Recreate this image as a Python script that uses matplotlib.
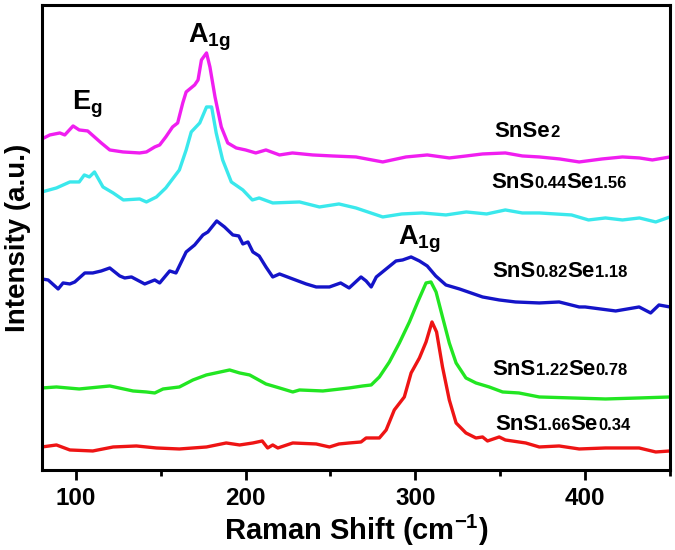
import matplotlib
matplotlib.use('Agg')
import matplotlib.pyplot as plt
from matplotlib.ticker import MultipleLocator

plt.rcParams['font.family'] = ['Liberation Sans', 'DejaVu Sans']
plt.rcParams['font.weight'] = 'bold'
plt.rcParams['mathtext.fontset'] = 'custom'
plt.rcParams['mathtext.rm'] = 'Liberation Sans:bold'
plt.rcParams['mathtext.bf'] = 'Liberation Sans:bold'
plt.rcParams['mathtext.it'] = 'Liberation Sans:bold'

# Raman spectra (intensity in arbitrary units, already offset)
x_snse2 = [80, 84.7, 90.6, 93.5, 98.4, 102, 107, 111, 115, 120, 127.8, 137.6, 141.6, 146.5, 149.4,
           153, 157, 160, 163, 165, 170, 172, 174, 177, 179, 182, 185.7, 189.5, 194.5, 200, 206,
           212, 220, 227.6, 239.5, 251, 265, 280.8, 294.5, 307, 320, 330, 339.6, 353, 363, 373,
           385, 396.5, 410, 422, 432, 439.6, 450]
y_snse2 = [331, 335, 337, 335, 344, 340, 339, 333, 327, 320, 318, 317, 318, 323, 325,
           333, 343, 347, 367, 378, 385, 390, 410, 417, 403, 373, 343, 327, 322, 320, 317,
           320, 315, 317, 315, 314, 313, 308, 313, 315, 312, 314, 316, 317, 314, 313,
           311, 308, 311, 313, 312, 310, 313]

x_s044 = [80, 88.6, 96.5, 102, 105, 108, 111, 116, 122, 128, 137.6, 141.6, 147.5, 153, 161,
          165, 168, 173, 177, 180, 182.7, 186.5, 191.6, 198.4, 204, 208, 216, 231.8, 243.5,
          255, 265, 280.8, 292, 304, 318, 330, 342, 353, 363, 373, 392, 402, 412, 422, 432,
          441.6, 450]
y_s044 = [278, 282, 288, 288, 295, 293, 298, 283, 277, 270, 271, 268, 273, 282, 300,
          320, 338, 347, 363, 363, 337, 310, 288, 280, 270, 272, 267, 268, 263,
          266, 262, 253, 256, 257, 255, 258, 256, 260, 257, 257, 255, 250, 252, 250, 252,
          248, 253]

x_s082 = [80, 83.7, 89.6, 92.5, 96.5, 99.4, 105.3, 110, 115, 120, 125.9, 128.8, 132.8, 140.6,
          146.5, 149.4, 155.3, 159, 165, 170, 174.9, 177.8, 183, 187.6, 192.5, 196, 198.4,
          201.4, 204.3, 208, 212, 216, 220, 227.8, 235.7, 241.6, 249.4, 256, 261, 268, 271,
          274, 277, 282.8, 288.6, 292.5, 297.5, 302.4, 307, 312, 318, 326, 339.6, 349.4, 359,
          373, 384.7, 396.5, 400, 418, 431.8, 438.6, 443.5, 450]
y_s082 = [191, 190, 181, 187, 186, 188, 197, 197, 199, 202, 194, 192, 193, 186,
          190, 187, 199, 197, 218, 225, 235, 238, 249, 243, 235, 234, 226,
          228, 218, 214, 203, 193, 196, 191, 186, 183, 183, 187, 182, 193, 189,
          183, 193, 201, 209, 210, 213, 209, 204, 194, 185, 181, 173, 170, 168,
          167, 168, 163, 163, 159, 163, 157, 165, 163]

x_s122 = [80, 88.6, 102, 120, 133.7, 141.6, 146.5, 151.4, 161, 169, 176.9, 190.6, 196.5, 202.4,
          212, 220, 227.8, 231.8, 245.5, 261, 269, 274, 278.8, 284.7, 290.6, 296.5, 301.4,
          306.3, 309.2, 312.2, 316, 320, 324, 329.8, 335.7, 343.5, 351.4, 361, 373, 392.5,
          412, 431.8, 450]
y_s122 = [82, 83, 81, 84, 79, 78, 77, 81, 83, 90, 95, 100, 97, 95,
          86, 82, 78, 80, 79, 82, 84, 85, 93, 108, 127, 148, 168,
          187, 188, 178, 153, 127, 107, 92, 87, 83, 78, 77, 73, 72,
          71, 72, 73]

x_s166 = [80, 88.6, 96.5, 110, 122, 135.7, 147.5, 161, 177, 188.6, 196.5, 204.3, 209.8, 213,
          216, 219, 227.8, 241.6, 249.4, 255, 261, 268, 271, 278.8, 282.8, 287.6, 293.5, 297.5,
          302.4, 306.3, 309.8, 312.5, 316, 320, 324, 329.8, 335.7, 339.6, 342.5, 349.4, 353,
          365, 373, 384.7, 396.5, 412, 431.8, 441.6, 450]
y_s166 = [23, 25, 20, 19, 23, 24, 22, 21, 23, 27, 25, 27, 29, 22,
          25, 22, 27, 26, 23, 26, 27, 28, 32, 32, 40, 60, 73, 97,
          112, 128, 148, 138, 103, 70, 47, 37, 32, 33, 29, 33, 30,
          27, 23, 24, 21, 22, 22, 18, 19]

colors = ['#f01ef0', '#3ae8ec', '#1414c8', '#22e622', '#ee1414']

# labels: (main, sub, main, sub) pieces
labels = [('SnSe', '2', '', ''),
          ('SnS', '0.44', 'Se', '1.56'),
          ('SnS', '0.82', 'Se', '1.18'),
          ('SnS', '1.22', 'Se', '0.78'),
          ('SnS', '1.66', 'Se', '0.34')]
label_x = [346.5, 344.5, 345.3, 345.3, 347]
label_y = [333, 282, 193, 95, 40]

fig = plt.figure(figsize=(6.75, 5.5), dpi=100)
ax = fig.add_axes([0.062, 0.1455, 0.9306, 0.8455])

series = [(x_snse2, y_snse2), (x_s044, y_s044), (x_s082, y_s082), (x_s122, y_s122), (x_s166, y_s166)]
for (xs, ys), c in zip(series, colors):
    ax.plot(xs, ys, color=c, lw=2.4)

ax.set_xlim(80, 450)
ax.set_ylim(0, 465)
ax.set_yticks([])
ax.xaxis.set_major_locator(MultipleLocator(100))
ax.xaxis.set_minor_locator(MultipleLocator(50))
ax.tick_params(axis='x', which='major', direction='out', length=7, width=2, pad=5, labelsize=17.5)
ax.tick_params(axis='x', which='minor', direction='out', length=4, width=2)
for sp in ax.spines.values():
    sp.set_linewidth(2.2)

ax.set_xlabel(r'Raman Shift (cm$^{\mathbf{-1}}$)', fontsize=21, fontweight='bold', labelpad=2)
ax.set_ylabel('Intensity (a.u.)', fontsize=20, fontweight='bold', labelpad=8)

# sample names with small digits on the same baseline
for parts, lx, ly in zip(labels, label_x, label_y):
    prev = ax.text(lx, ly, parts[0], fontsize=16, fontweight='bold', va='baseline', ha='left')
    for i, p in enumerate(parts[1:]):
        if not p:
            continue
        size = 12 if i % 2 == 0 else 16
        prev = ax.annotate(p, xy=(1, ly), xycoords=(prev, 'data'), fontsize=size,
                           fontweight='bold', va='baseline', ha='left')

# peak annotations
ax.text(97.6, 360, r'E$_{\mathbf{g}}$', fontsize=19.5, fontweight='bold', va='baseline')
ax.text(165.9, 427, r'A$_{\mathbf{1g}}$', fontsize=19.5, fontweight='bold', va='baseline')
ax.text(290, 225, r'A$_{\mathbf{1g}}$', fontsize=19.5, fontweight='bold', va='baseline')

fig.savefig('out.png', dpi=100)
